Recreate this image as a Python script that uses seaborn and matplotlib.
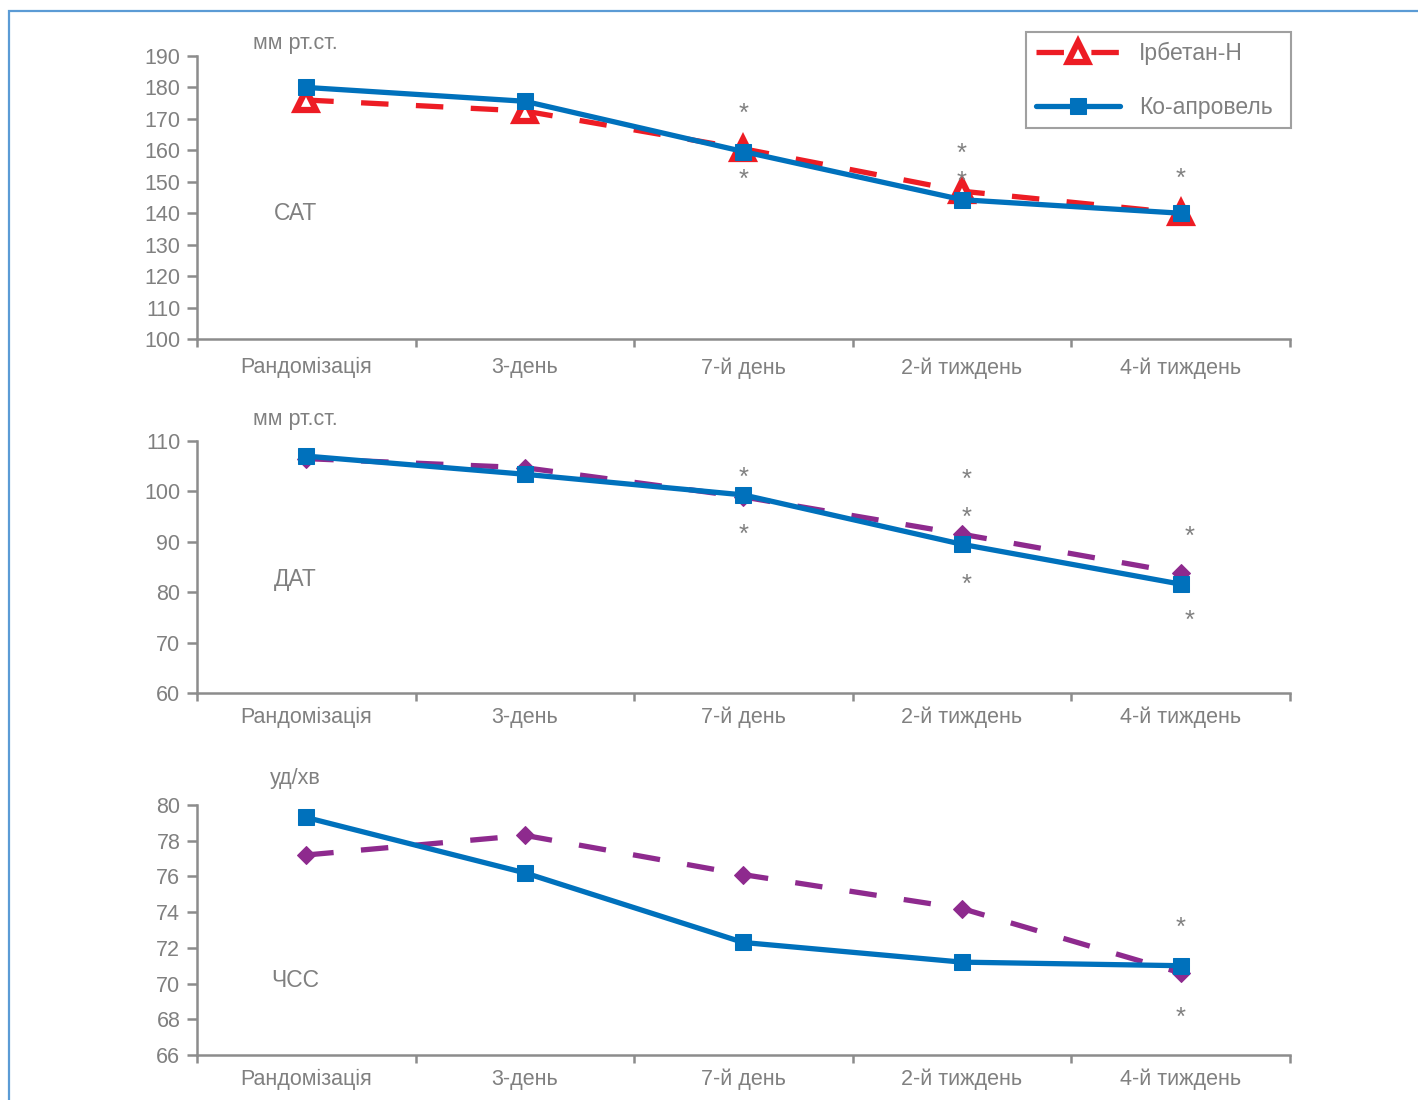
import numpy as np
import pandas as pd
import seaborn as sns
import matplotlib.pyplot as plt
from matplotlib import font_manager
from matplotlib.patches import Rectangle

sns.set_theme(style="white")
installed = {f.name for f in font_manager.fontManager.ttflist}
narrow = "Liberation Sans Narrow" if "Liberation Sans Narrow" in installed else "Liberation Sans"
plt.rcParams["font.family"] = [narrow, "DejaVu Sans"]

# data
cats = ["Рандомізація", "3-день", "7-й день", "2-й тиждень", "4-й тиждень"]
sat_irb = [176.0, 172.5, 160.5, 147.0, 140.0]
sat_ko = [180.0, 175.6, 159.6, 144.3, 140.0]
dat_irb = [106.5, 104.7, 98.9, 91.5, 83.8]
dat_ko = [107.0, 103.4, 99.3, 89.5, 81.6]
hr_irb = [77.2, 78.3, 76.1, 74.2, 70.6]
hr_ko = [79.3, 76.2, 72.3, 71.2, 71.0]

# significance marks (category position, value)
sat_star_x = [2, 2, 3, 3, 4]
sat_star_y = [173.5, 152.3, 160.7, 151.8, 152.8]
dat_star_x = [2, 2, 3.02, 3.02, 3.02, 4.04, 4.04]
dat_star_y = [103.7, 92.4, 103.3, 95.9, 82.5, 92.0, 75.5]
hr_star_x = [4, 4]
hr_star_y = [73.4, 68.4]

GRAY = "#808080"
AXC = "#8c8c8c"
BLUE = "#0071bc"
RED = "#ed1c24"
PURPLE = "#8e2a8e"
FS = 15.5

fig = plt.figure(figsize=(14.18, 11), dpi=100)
fig.add_artist(Rectangle((9 / 1418, -0.1), 1.2, 1.1 - 11 / 1100,
                         transform=fig.transFigure, fill=False,
                         edgecolor="#5b9bd5", lw=1.6))

panels = [
    dict(rect=[0.1389, 0.6918, 0.7708, 0.2573], irb=sat_irb, ko=sat_ko,
         ylim=(100, 190), yticks=np.arange(100, 191, 10), unit="мм рт.ст.",
         unit_y=1.045, name="САТ", name_y=140, irb_color=RED, irb_marker="^",
         sx=sat_star_x, sy=sat_star_y, xpad=13),
    dict(rect=[0.1389, 0.3700, 0.7708, 0.2291], irb=dat_irb, ko=dat_ko,
         ylim=(60, 110), yticks=np.arange(60, 111, 10), unit="мм рт.ст.",
         unit_y=1.085, name="ДАТ", name_y=82.5, irb_color=PURPLE, irb_marker="D",
         sx=dat_star_x, sy=dat_star_y, xpad=10),
    dict(rect=[0.1389, 0.0409, 0.7708, 0.2273], irb=hr_irb, ko=hr_ko,
         ylim=(66, 80), yticks=np.arange(66, 81, 2), unit="уд/хв",
         unit_y=1.105, name="ЧСС", name_y=70.2, irb_color=PURPLE, irb_marker="D",
         sx=hr_star_x, sy=hr_star_y, xpad=10),
]

for i, p in enumerate(panels):
    ax = fig.add_axes(p["rect"])
    df = pd.DataFrame({"cat": cats, "irb": p["irb"], "ko": p["ko"]})
    x = np.arange(len(cats))

    if p["irb_marker"] == "^":
        mk = dict(marker="^", markersize=15, markerfacecolor="white",
                  markeredgecolor=RED, markeredgewidth=4.5)
    else:
        mk = dict(marker="D", markersize=9, markerfacecolor=PURPLE,
                  markeredgecolor=PURPLE)
    sns.lineplot(x=x, y=df["irb"], ax=ax, color=p["irb_color"], lw=3.8,
                 dashes=False, sort=False, label="Ірбетан-Н", **mk)
    ax.lines[-1].set_dashes((5.2, 5.2))
    sns.lineplot(x=x, y=df["ko"], ax=ax, color=BLUE, lw=3.8, marker="s",
                 markersize=12, markeredgecolor=BLUE, sort=False,
                 label="Ко-апровель")

    for sx, sy in zip(p["sx"], p["sy"]):
        ax.annotate("*", (sx, sy), xytext=(0, -9), textcoords="offset points",
                    ha="center", va="baseline", fontsize=FS + 3, color=GRAY)

    ax.set_xlim(-0.5, 4.5)
    ax.set_ylim(*p["ylim"])
    ax.set_yticks(p["yticks"])
    ax.set_xticks(np.arange(-0.5, 4.6, 1))
    ax.set_xticklabels([])
    ax.set_xticks(x, minor=True)
    ax.set_xticklabels(cats, minor=True)
    ax.tick_params(axis="x", which="minor", length=0, pad=p["xpad"],
                   labelsize=FS, labelcolor=GRAY)
    ax.tick_params(axis="x", which="major", direction="out", length=6,
                   width=1.8, color=AXC, bottom=True)
    ax.tick_params(axis="y", direction="out", length=7, width=1.8, color=AXC,
                   left=True, labelsize=FS, labelcolor=GRAY, pad=5)
    for s in ["top", "right"]:
        ax.spines[s].set_visible(False)
    for s in ["left", "bottom"]:
        ax.spines[s].set_color(AXC)
        ax.spines[s].set_linewidth(1.8)
    ax.set_xlabel("")
    ax.set_ylabel("")
    ax.grid(False)

    ax.text(-0.05, p["unit_y"], p["unit"], transform=ax.get_xaxis_transform(),
            ha="center", va="center", fontsize=FS, color=GRAY)
    ax.text(-0.05, p["name_y"], p["name"], ha="center", va="center",
            fontsize=FS + 1, color=GRAY)

    if i == 0:
        ax.legend(loc="upper left", bbox_to_anchor=(1026 / 1418, 1 - 32 / 1100,
                                                    265 / 1418, 0.0),
                  bbox_transform=fig.transFigure, mode="expand",
                  fontsize=FS + 1, labelcolor=GRAY, frameon=True,
                  fancybox=False, edgecolor="#a0a0a0", framealpha=1,
                  handlelength=3.7, handletextpad=0.8, labelspacing=1.35,
                  borderpad=0.42, borderaxespad=0)
        ax.get_legend().get_frame().set_linewidth(1.5)
    else:
        ax.get_legend().remove()

fig.savefig("out.png", dpi=100)
